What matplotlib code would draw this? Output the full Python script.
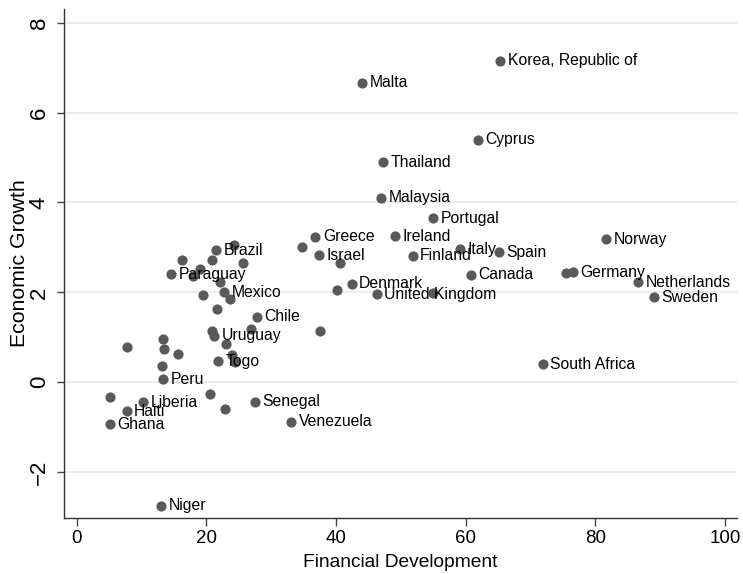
import numpy as np
import matplotlib.pyplot as plt

plt.rcParams['font.family'] = ['Liberation Sans', 'DejaVu Sans']

# Financial development vs economic growth, by country ("" = no label)
countries = [
    "Korea, Republic of", "Malta", "Cyprus", "Thailand", "Malaysia", "Portugal",
    "Ireland", "Greece", "", "Israel", "", "Finland", "Italy", "Spain", "Canada",
    "Denmark", "", "United Kingdom", "", "Norway", "", "Germany", "Netherlands",
    "Sweden", "South Africa", "Brazil", "", "", "", "", "Paraguay", "", "", "",
    "", "Mexico", "", "", "Chile", "", "", "Uruguay", "", "", "", "", "", "Togo",
    "", "", "", "Peru", "", "", "Liberia", "Haiti", "Ghana", "", "", "Senegal",
    "Venezuela", "Niger",
]
fin_dev = [
    65.3, 44.0, 61.9, 47.2, 46.9, 55.0,
    49.1, 36.8, 34.8, 37.4, 40.6, 51.8, 59.1, 65.1, 60.8,
    42.4, 40.2, 46.3, 54.9, 81.6, 75.5, 76.5, 86.6,
    89.0, 71.9, 21.5, 24.3, 16.2, 20.8, 25.6, 14.5, 17.9, 19.0, 22.1,
    19.5, 22.8, 23.6, 21.7, 27.8, 26.9, 20.8, 21.2, 23.0, 7.7, 13.3, 13.5, 15.7, 21.8,
    23.9, 24.4, 13.1, 13.3, 37.5, 5.1, 10.2, 7.7, 5.1, 20.6, 22.9, 27.5,
    33.1, 13.0,
]
growth = [
    7.15, 6.66, 5.39, 4.90, 4.11, 3.65,
    3.25, 3.24, 3.02, 2.82, 2.65, 2.81, 2.96, 2.89, 2.39,
    2.19, 2.05, 1.96, 1.99, 3.18, 2.44, 2.45, 2.22,
    1.89, 0.40, 2.94, 3.05, 2.71, 2.71, 2.66, 2.40, 2.36, 2.52, 2.22,
    1.93, 2.00, 1.85, 1.62, 1.46, 1.18, 1.15, 1.03, 0.85, 0.78, 0.96, 0.73, 0.63, 0.47,
    0.61, 0.44, 0.37, 0.07, 1.14, -0.33, -0.45, -0.65, -0.93, -0.27, -0.59, -0.43,
    -0.88, -2.75,
]

x_ticks = [0, 20, 40, 60, 80, 100]
y_ticks = [-2, 0, 2, 4, 6, 8]

fig = plt.figure(figsize=(7.43, 5.74), dpi=100)
ax = fig.add_axes([0.0865, 0.0976, 0.905, 0.8864])

ax.scatter(fin_dev, growth, s=54, color='#5a5a5a', linewidths=0, zorder=3)
for name, xv, yv in zip(countries, fin_dev, growth):
    if name:
        ax.annotate(name, (xv, yv), xytext=(5.5, 0), textcoords='offset points',
                    ha='left', va='center', fontsize=11.3, color='black', zorder=4)

ax.set_xlim(-1.91, 101.8)
ax.set_ylim(-3.02, 8.3)
ax.set_xticks(x_ticks)
ax.set_yticks(y_ticks)
ax.set_yticklabels([str(v).replace('-', '\u2212') for v in y_ticks], rotation=90, va='center')
ax.tick_params(length=5.4, width=1, color='#444444')
ax.tick_params(axis='x', labelsize=13.5, pad=3)
ax.tick_params(axis='y', labelsize=16, pad=5)
ax.grid(axis='y', color='#e8e8e8', linewidth=1.2, zorder=0)
ax.set_axisbelow(True)
for side in ['top', 'right']:
    ax.spines[side].set_visible(False)
for side in ['left', 'bottom']:
    ax.spines[side].set_color('#333333')
    ax.spines[side].set_linewidth(1)

ax.set_xlabel('Financial Development', fontsize=13.8, labelpad=5.5)
ax.set_ylabel('Economic Growth', fontsize=15.3, labelpad=0)

fig.savefig('out.png', dpi=100)
